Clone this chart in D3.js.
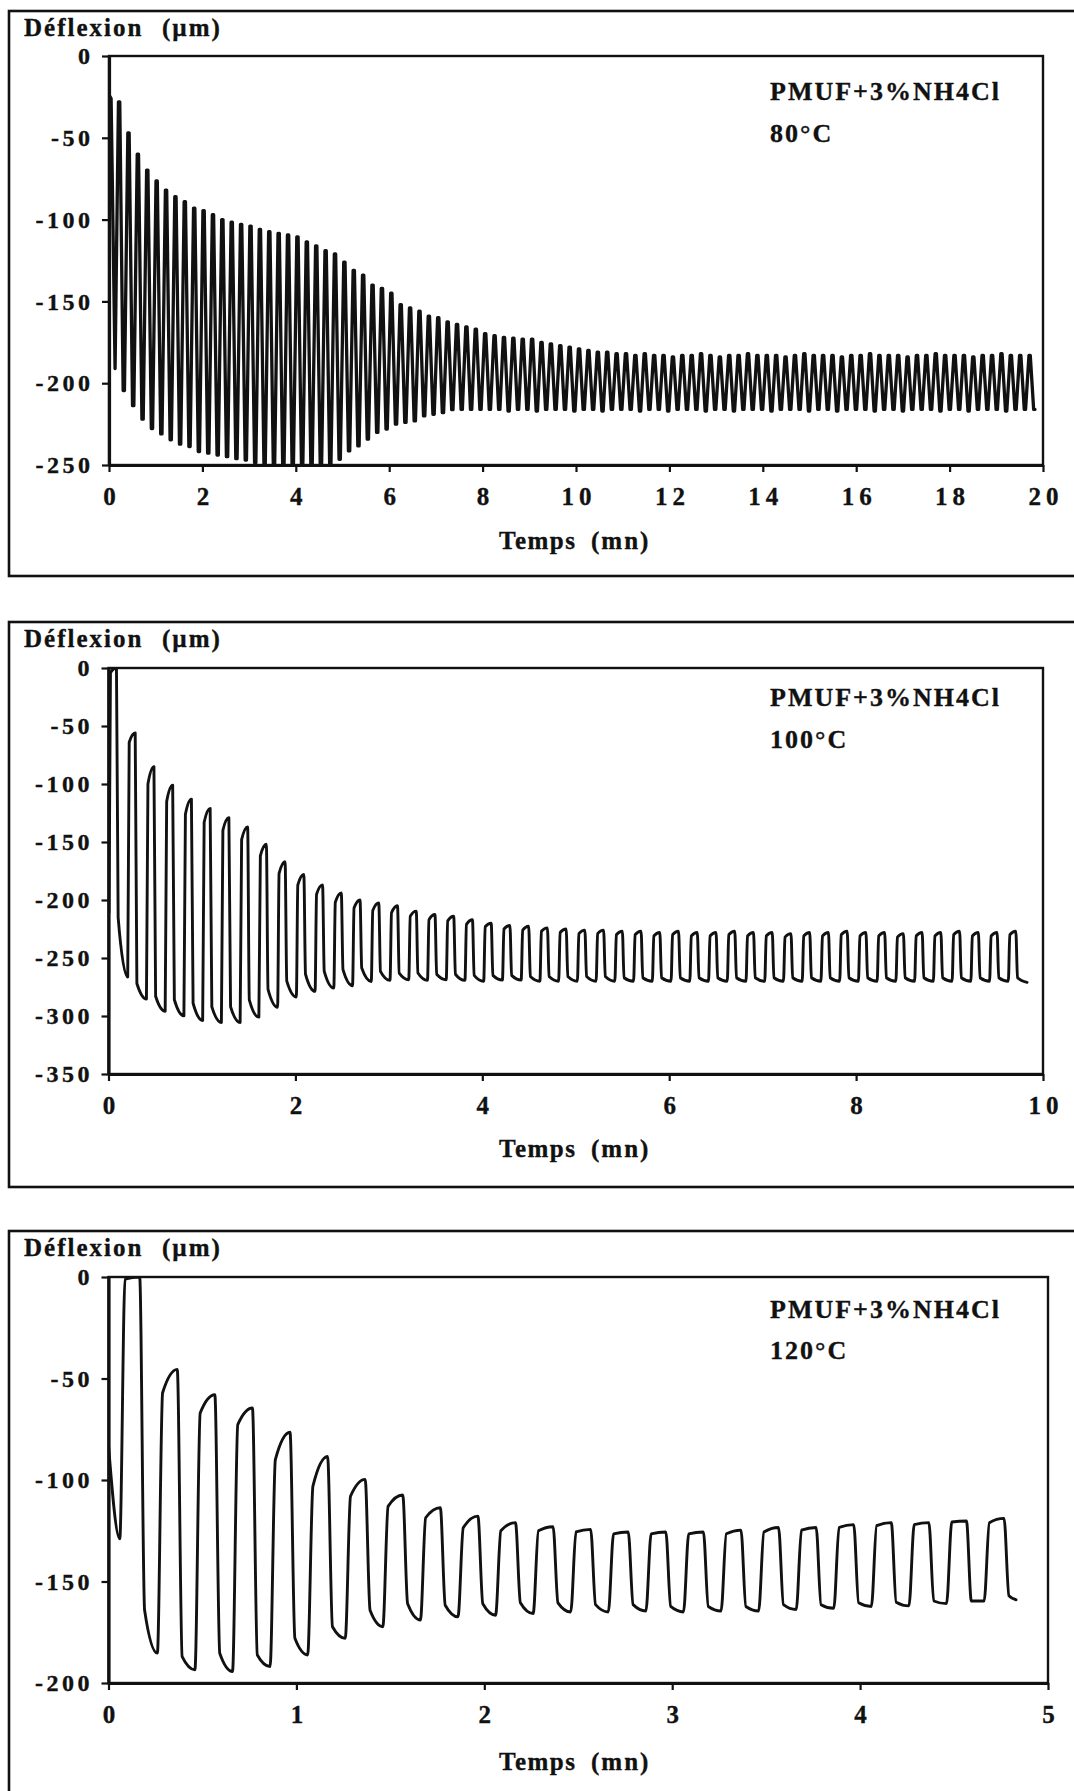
<!DOCTYPE html>
<html><head><meta charset="utf-8">
<script src="https://cdn.jsdelivr.net/npm/d3@7"></script>
<style>
html,body{margin:0;padding:0;background:#fff;}
svg{display:block;}
text{font-family:"Liberation Serif","Times New Roman",serif;font-weight:bold;fill:#111;stroke:#111;stroke-width:0.35px;}
</style></head><body>
<svg id="chart" width="1074" height="1791"></svg>
<script>
// ---------- DATA ----------
const sampleLabel = "PMUF+3%NH4Cl";
const temperatures = ["80°C", "100°C", "120°C"];
const yTitle = ["Déflexion", "(µm)"];
const xTitle = ["Temps", "(mn)"];

// Panel 1 : 80°C  (cycle period ~0.2 min)
const p1XTicks = [0, 2, 4, 6, 8, 10, 12, 14, 16, 18, 20];
const p1YTicks = [0, -50, -100, -150, -200, -250];
const p1Start = 0.13, p1Period = 0.201;
const p1Lead = [[0, -188], [0.005, -24], [0.045, -26]];
const p1Tail = [];
const p1Peaks = [
  -28, -47, -60, -69.7, -76.4, -82, -86, -89, -93, -94.5,
  -97, -100, -101.6, -102.9, -104, -106, -107.4, -108.4, -109.4, -110.5,
  -113.6, -116, -119, -121, -126, -131, -134, -140, -142, -145,
  -152, -154, -156, -159, -160, -162.5, -164, -165.6, -167, -169.7,
  -171, -172, -172.5, -173, -173, -175, -176, -177, -178, -179,
  -180, -181, -181, -182, -182, -183, -182, -183, -183, -184,
  -183, -183, -182, -183, -184, -183, -183, -182, -183, -183,
  -183, -184, -183, -182, -183, -183, -183, -184, -183, -183,
  -182, -183, -183, -183, -184, -183, -183, -182, -183, -183,
  -183, -184, -183, -183, -182, -183, -183, -183];
const p1Troughs = [
  -191, -204.5, -213.7, -222, -227.7, -231, -234.6, -237.3, -238.7, -241.8,
  -242.8, -243.9, -244.9, -246.1, -247, -248.6, -250, -252, -252, -252,
  -252, -252, -252, -250, -246.5, -241.4, -238.3, -234.2, -230.1, -228,
  -225, -224, -223, -220, -219, -218, -216.2, -216, -216, -216,
  -216, -216, -217, -216, -216, -217, -216, -216, -216, -217,
  -216, -216, -217, -216, -216, -216, -217, -216, -216, -217,
  -216, -216, -216, -217, -216, -216, -217, -216, -216, -216,
  -217, -216, -216, -216, -217, -216, -216, -217, -216, -216,
  -216, -217, -216, -216, -217, -216, -216, -216, -217, -216,
  -216, -217, -216, -216, -216, -217, -216, -216, -216];

// Panel 2 : 100°C
const p2XTicks = [0, 2, 4, 6, 8, 10];
const p2YTicks = [0, -50, -100, -150, -200, -250, -300, -350];
const p2Start = 0.005, p2Period = 0.2005;
const p2Lead = [];
const p2Tail = [];
const p2Peaks = [
  0, -56, -85, -101, -113, -121, -129, -137, -152, -167,
  -178, -187, -194, -200, -202.5, -205, -209.6, -212.5, -214, -217,
  -220, -222, -222.6, -224, -225, -226, -226, -227, -227, -228,
  -227, -228, -228, -227, -228, -228, -229, -228, -228, -227,
  -228, -228, -229, -228, -228, -227, -228, -228, -227];
const p2TopStart = [
  -4, -64, -100, -115, -126, -133, -140, -148, -162, -177,
  -187, -195, -202, -207, -209, -211, -214, -217, -218, -221,
  -223, -225, -226, -227, -228, -229, -229, -230, -230, -231,
  -230, -231, -231, -230, -231, -231, -232, -231, -231, -230,
  -231, -231, -232, -231, -231, -230, -231, -231, -230];
const p2BotStart = [
  -215, -272, -283, -286, -289, -292, -292, -286, -277, -270,
  -264, -261.5, -260, -258.6, -261.5, -263, -263, -264, -264, -265,
  -265, -265, -266, -266, -266, -266, -266, -267, -267, -267,
  -267, -267, -267, -267, -267, -267, -267, -267, -267, -267,
  -267, -267, -267, -267, -267, -267, -267, -267, -267];
const p2Troughs = [
  -211, -266.4, -285.4, -296, -299.9, -303.9, -305.6, -305.6, -301, -292.4,
  -283.7, -278.8, -276, -273.9, -270.2, -269.3, -268.7, -269.3, -268.7, -269.3,
  -270, -269, -269, -270, -270, -270, -270, -270, -270, -270,
  -270, -270, -270, -270, -270, -270, -270, -270, -270, -270,
  -270, -270, -270, -270, -270, -270, -270, -270, -270, -271];

// Panel 3 : 120°C
const p3XTicks = [0, 1, 2, 3, 4, 5];
const p3YTicks = [0, -50, -100, -150, -200];
const p3Start = 0.06, p3Period = 0.2;
const p3Lead = [[0, -83]];
const p3Tail = [[4.83, -159]];
const p3Peaks = [
  0, -45.5, -58, -64.5, -76.5, -88.4, -99.7, -107.4, -113.7, -117.8,
  -121, -123, -124.3, -125.6, -125.6, -125.6, -124.7, -123.4, -123.4, -122,
  -121, -121, -120.2, -118.9];
const p3TopStart = [
  -1, -57, -67, -72.7, -90, -103, -108, -113, -118.6, -123.5,
  -125, -125, -125.6, -126.5, -126.5, -126.5, -126.5, -125.6, -124.7, -123.4,
  -122.5, -122, -120.7, -121];
const p3BotStart = [
  -164, -187, -185.3, -186.2, -178, -172.3, -164.2, -161, -161.7, -161,
  -160.5, -160.5, -161.4, -161.4, -162.3, -162.3, -162.3, -161.4, -161.4, -160.5,
  -160.2, -159.6, -159.6, -157];
const p3Troughs = [
  -129, -185.3, -193.5, -194.3, -191.9, -186.2, -178, -172.3, -169, -167.4,
  -166.6, -165.8, -165, -165, -164.5, -165, -164.5, -164.5, -163.8, -163.2,
  -162.3, -162, -160.9, -159.6];

// ---------- LAYOUT ----------
const W = 1074, H = 1791;
const panels = [
  { frameTop: 11, frameBottom: 576, x0: 109, x1: 1043, y0: 56, y1: 465,
    xDomain: [0, 20], yDomain: [-250, 0], xTicks: p1XTicks, yTicks: p1YTicks,
    yTitleY: 36, xTitleY: 549, annotY: [100, 142], temp: temperatures[0],
    start: p1Start, period: p1Period, lead: p1Lead, tail: p1Tail, peaks: p1Peaks, troughs: p1Troughs,
    topStart: null, botStart: null, shape: [0.36, 0.5, 0.86], lw: 3.3, smooth: false },
  { frameTop: 622, frameBottom: 1187, x0: 108.5, x1: 1043, y0: 668, y1: 1074,
    xDomain: [0, 10], yDomain: [-350, 0], xTicks: p2XTicks, yTicks: p2YTicks,
    yTitleY: 647, xTitleY: 1157, annotY: [706, 748], temp: temperatures[1],
    start: p2Start, period: p2Period, lead: p2Lead, tail: p2Tail, peaks: p2Peaks, troughs: p2Troughs,
    topStart: p2TopStart, botStart: p2BotStart, shape: [0.08, 0.4, 0.49], lw: 2.9, smooth: true },
  { frameTop: 1231, frameBottom: 1800, x0: 108.5, x1: 1048, y0: 1277, y1: 1683,
    xDomain: [0, 5], yDomain: [-200, 0], xTicks: p3XTicks, yTicks: p3YTicks,
    yTitleY: 1256, xTitleY: 1770, annotY: [1318, 1359], temp: temperatures[2],
    start: p3Start, period: p3Period, lead: p3Lead, tail: p3Tail, peaks: p3Peaks, troughs: p3Troughs,
    topStart: p3TopStart, botStart: p3BotStart, shape: [0.14, 0.53, 0.66], lw: 2.9, smooth: true }
];

const svg = d3.select("#chart");
svg.append("rect").attr("width", W).attr("height", H).attr("fill", "#fff");
const ink = "#111";

function buildSeries(p) {
  const pts = p.lead.map(d => d.slice());
  const n = p.peaks.length;
  for (let i = 0; i < n; i++) {
    const t = p.start + i * p.period;
    const ts = p.topStart ? p.topStart[i] : p.peaks[i];
    const nextT = p.troughs[i + 1] !== undefined ? p.troughs[i + 1] : p.troughs[i];
    const bs = p.botStart ? p.botStart[i] : nextT;
    pts.push([t, p.troughs[i]]);
    pts.push([t + p.shape[0] * p.period, ts]);
    pts.push([t + p.shape[1] * p.period, p.peaks[i]]);
    pts.push([t + p.shape[2] * p.period, bs]);
  }
  if (p.troughs.length > n) pts.push([p.start + n * p.period, p.troughs[n]]);
  p.tail.forEach(d => pts.push(d.slice()));
  return pts;
}

panels.forEach((p, k) => {
  const g = svg.append("g");
  g.append("rect").attr("x", 9).attr("y", p.frameTop)
    .attr("width", W + 20).attr("height", p.frameBottom - p.frameTop)
    .attr("fill", "none").attr("stroke", ink).attr("stroke-width", 2.6);

  const x = d3.scaleLinear().domain(p.xDomain).range([p.x0, p.x1]);
  const y = d3.scaleLinear().domain(p.yDomain).range([p.y1, p.y0]);

  g.append("rect").attr("x", p.x0).attr("y", p.y0)
    .attr("width", p.x1 - p.x0).attr("height", p.y1 - p.y0)
    .attr("fill", "none").attr("stroke", ink).attr("stroke-width", 2.4);

  const cid = "clip" + k;
  svg.append("clipPath").attr("id", cid).append("rect")
    .attr("x", p.x0).attr("y", p.y0).attr("width", p.x1 - p.x0).attr("height", p.y1 - p.y0);

  const series = buildSeries(p);
  const line = d3.line().x(d => x(d[0])).y(d => y(d[1]))
    .curve(p.smooth ? d3.curveMonotoneX : d3.curveLinear);
  g.append("path").datum(series).attr("clip-path", `url(#${cid})`)
    .attr("d", line).attr("fill", "none").attr("stroke", ink)
    .attr("stroke-width", p.lw).attr("stroke-linejoin", "round").attr("stroke-linecap", "round");

  const yAxis = d3.axisLeft(y).tickValues(p.yTicks).tickFormat(d => String(d))
    .tickSize(7).tickSizeOuter(0).tickPadding(12);
  const ya = g.append("g").attr("transform", `translate(${p.x0},0)`).call(yAxis);
  ya.select(".domain").attr("stroke", ink).attr("stroke-width", 3.2);
  ya.selectAll(".tick line").attr("stroke", ink).attr("stroke-width", 2.2);
  ya.selectAll(".tick text").attr("font-size", 24).attr("letter-spacing", 3.5)
    .attr("dx", 3.5).attr("fill", ink);

  const xAxis = d3.axisBottom(x).tickValues(p.xTicks).tickFormat(d => String(d))
    .tickSize(7).tickSizeOuter(0).tickPadding(15);
  const xa = g.append("g").attr("transform", `translate(0,${p.y1})`).call(xAxis);
  xa.select(".domain").attr("stroke", ink).attr("stroke-width", 3.2);
  xa.selectAll(".tick line").attr("stroke", ink).attr("stroke-width", 2.2);
  xa.selectAll(".tick text").attr("font-size", 25).attr("letter-spacing", 5)
    .attr("dx", 2.5).attr("fill", ink);
  [ya, xa].forEach(a => a.attr("font-family", null).attr("font-size", null));

  g.append("text").attr("x", 24).attr("y", p.yTitleY).attr("font-size", 25)
    .attr("letter-spacing", 2).text(yTitle[0]);
  g.append("text").attr("x", 162).attr("y", p.yTitleY).attr("font-size", 25)
    .attr("letter-spacing", 2).text(yTitle[1]);
  g.append("text").attr("x", 499).attr("y", p.xTitleY).attr("font-size", 25)
    .attr("letter-spacing", 1.5).text(xTitle[0]);
  g.append("text").attr("x", 591).attr("y", p.xTitleY).attr("font-size", 25)
    .attr("letter-spacing", 2).text(xTitle[1]);

  g.append("text").attr("x", 770).attr("y", p.annotY[0]).attr("font-size", 26)
    .attr("letter-spacing", 2).text(sampleLabel);
  g.append("text").attr("x", 770).attr("y", p.annotY[1]).attr("font-size", 26)
    .attr("letter-spacing", 2).text(p.temp);
});
</script>
</body></html>
